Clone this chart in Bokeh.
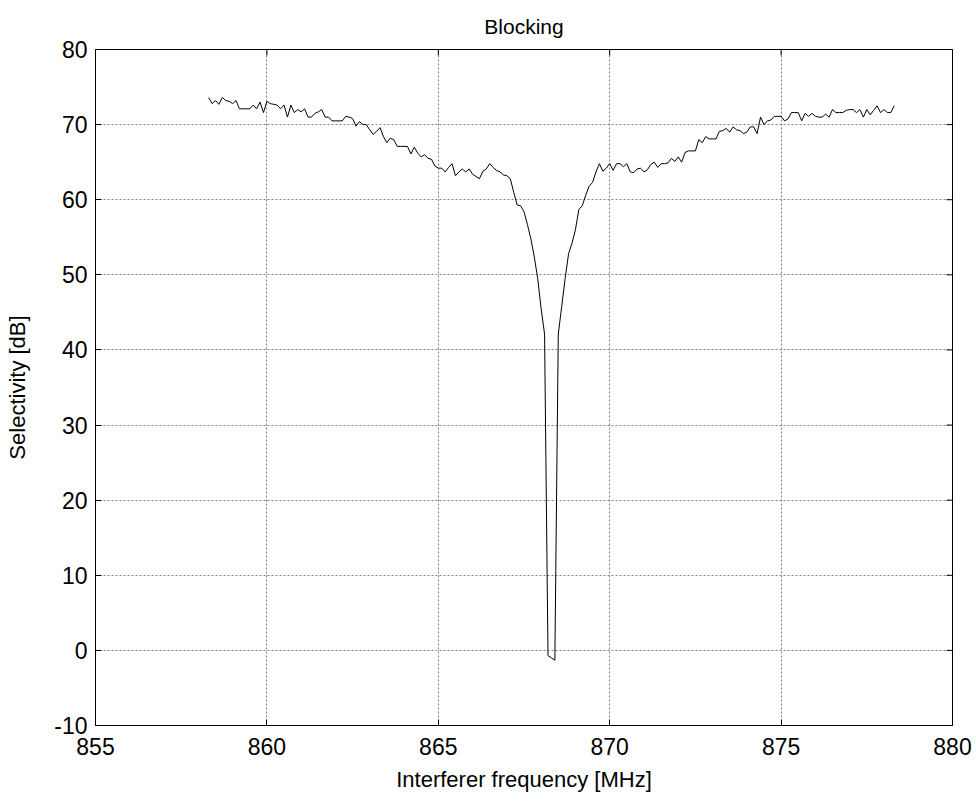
import numpy as np
from bokeh.plotting import figure
from bokeh.models import Range1d, FixedTicker
from bokeh.embed import file_html
from bokeh.resources import INLINE

# Interferer frequency sweep [MHz]: 858.3 .. 878.3 in 0.1 MHz steps
freq_start = 858.3
freq_step = 0.1

selectivity_db = [
    73.6, 72.8, 73.2, 72.7, 73.6, 73.2, 73.1, 72.8, 73.2, 72.1,
    72.1, 72.1, 72.1, 72.6, 72.1, 73.0, 71.6, 73.1, 72.8, 72.7,
    72.6, 72.1, 72.6, 71.0, 72.6, 71.6, 72.0, 71.7, 72.1, 71.0,
    71.0, 71.5, 71.7, 72.0, 71.0, 71.0, 70.5, 70.5, 70.5, 70.5,
    71.1, 71.0, 70.8, 69.8, 70.4, 70.0, 70.0, 69.3, 68.7, 69.1,
    69.6, 68.4, 67.6, 68.2, 68.0, 67.1, 67.1, 67.1, 67.1, 66.1,
    67.0, 66.2, 65.7, 66.0, 65.5, 65.4, 64.5, 64.2, 64.2, 63.7,
    64.3, 64.8, 63.2, 63.7, 64.1, 63.7, 64.1, 63.4, 63.1, 62.8,
    63.8, 64.1, 64.8, 64.3, 63.9, 63.7, 63.3, 63.2, 62.8, 61.0,
    59.3, 59.2, 58.4, 56.7, 54.8, 52.4, 49.5, 45.5, 42.1, -0.7,
    -1.0, -1.3, 42.1, 45.8, 49.5, 52.8, 54.2, 56.0, 58.7, 59.2,
    60.6, 61.8, 62.3, 63.7, 64.8, 63.8, 64.2, 64.8, 63.9, 64.8,
    64.8, 64.4, 64.8, 63.7, 63.6, 64.1, 64.2, 63.7, 64.0, 64.7,
    65.0, 64.3, 64.8, 64.8, 64.9, 65.5, 65.1, 65.7, 65.0, 66.3,
    66.5, 66.5, 66.5, 68.0, 67.6, 68.4, 68.1, 68.1, 68.1, 69.1,
    69.2, 69.5, 69.0, 69.7, 69.3, 69.2, 68.8, 69.0, 69.7, 69.7,
    68.8, 71.0, 70.0, 70.5, 70.6, 71.1, 71.1, 71.1, 70.5, 70.75,
    71.6, 71.6, 71.6, 70.5, 71.5, 71.1, 71.5, 71.1, 71.0, 71.0,
    71.4, 71.0, 72.0, 71.6, 71.6, 71.6, 71.9, 72.0, 72.0, 71.6,
    72.0, 71.0, 72.0, 71.3, 71.9, 72.5, 71.6, 72.0, 71.6, 71.6,
    72.5,
]

freq_mhz = np.round(freq_start + freq_step * np.arange(len(selectivity_db)), 2)

x_ticks = [855, 860, 865, 870, 875, 880]
y_ticks = [-10, 0, 10, 20, 30, 40, 50, 60, 70, 80]
x_min, x_max = 855, 880
y_min, y_max = -10, 80

FONT = "Liberation Sans"

p = figure(
    width=976, height=801,
    output_backend="svg", toolbar_location=None,
    x_range=Range1d(x_min, x_max), y_range=Range1d(y_min, y_max),
    min_border_left=95, min_border_right=24,
    min_border_top=49, min_border_bottom=76,
    title="Blocking",
)
p.background_fill_color = "white"
p.border_fill_color = "white"
p.outline_line_color = "black"
p.outline_line_width = 1
p.outline_line_alpha = 1

p.title.align = "center"
p.title.text_font = FONT
p.title.text_font_size = "21px"
p.title.text_font_style = "normal"
p.title.text_color = "black"
p.title.standoff = 23

xt = FixedTicker(ticks=x_ticks)
yt = FixedTicker(ticks=y_ticks)

for ax in (p.xaxis[0], p.yaxis[0]):
    ax.axis_line_color = "black"
    ax.major_tick_in = 6
    ax.major_tick_out = 0
    ax.minor_tick_line_color = None
    ax.major_tick_line_color = "black"
    ax.major_label_text_font = FONT
    ax.major_label_text_color = "black"
    ax.major_label_text_font_size = "23px"
    ax.axis_label_text_font = FONT
    ax.axis_label_text_font_size = "22px"
    ax.axis_label_text_font_style = "normal"
    ax.axis_label_text_color = "black"

p.xaxis.ticker = xt
p.yaxis.ticker = yt
p.yaxis.major_label_overrides = {-10: "-10"}
p.xaxis.major_label_standoff = 12
p.yaxis.major_label_standoff = 8

p.xaxis.axis_label = "Interferer frequency [MHz]"
p.yaxis.axis_label = "Selectivity [dB]"
p.xaxis.axis_label_standoff = 9
p.yaxis.axis_label_standoff = 21

p.xgrid.ticker = xt
p.ygrid.ticker = yt
for g in (p.xgrid[0], p.ygrid[0]):
    g.grid_line_color = "#808080"
    g.grid_line_dash = "2 2"
    g.grid_line_width = 1

# inward tick marks on the top and right edges of the box (clipped to the frame)
p.scatter(x=x_ticks, y=[y_max] * len(x_ticks), marker="dash", angle=np.pi / 2,
          size=12, line_color="black", line_width=1)
p.scatter(x=[x_max] * len(y_ticks), y=y_ticks, marker="dash",
          size=12, line_color="black", line_width=1)

p.line(freq_mhz, selectivity_db, line_color="black", line_width=1)

open("out.html", "w").write(file_html(p, INLINE))
